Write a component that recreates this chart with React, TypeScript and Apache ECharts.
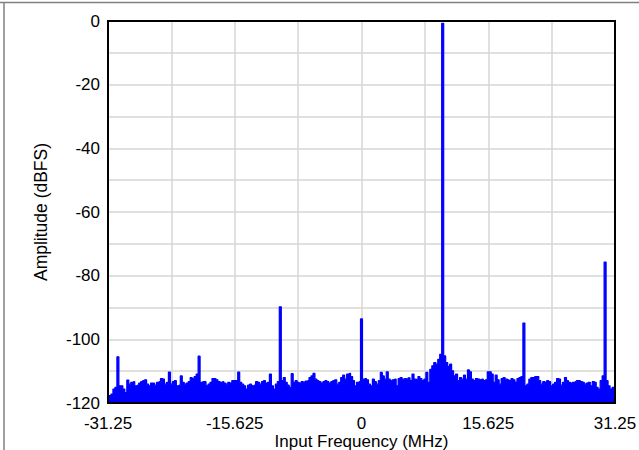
import React, { useEffect, useRef } from "react";
import * as echarts from "echarts";

// FFT bin settings (frequency axis, MHz)
const startFreqMHz = -31.25;
const spanMHz = 62.5;
const binCount = 256;

// Amplitude per bin (dBFS), bins 0..256
const amplitudeDbfs: number[] = [
  -118.2, -117.7, -117.2, -115.6, -115.1, -105.5, -114.6, -114.6, -115.6, -116.7, -112.8, -114.1, -113.5, -113.3, -114.6, -114.4,
  -113.75, -113.3, -113.0, -112.7, -114.1, -114.6, -113.75, -113.75, -114.4, -113.5, -113.3, -112.3, -112.5, -114.1, -113.5, -110.3,
  -114.1, -113.3, -113.0, -114.6, -114.4, -111.5, -113.5, -114.1, -113.75, -113.3, -112.0, -112.3, -111.7, -110.9, -105.3, -113.5,
  -113.3, -113.3, -114.6, -114.1, -113.5, -112.3, -112.3, -112.7, -113.3, -113.5, -113.3, -113.75, -114.1, -113.5, -113.75, -113.0,
  -113.0, -113.0, -110.3, -113.5, -114.1, -114.6, -115.6, -114.4, -114.1, -114.6, -114.4, -113.3, -113.5, -114.1, -113.3, -113.0,
  -113.75, -113.5, -110.9, -114.6, -115.6, -114.1, -113.3, -89.8, -113.0, -112.0, -113.5, -114.4, -115.1, -110.8, -113.5, -113.0,
  -113.5, -113.75, -113.3, -113.5, -113.1, -113.0, -112.0, -111.5, -110.7, -112.5, -113.0, -113.3, -113.75, -113.3, -113.0, -113.3,
  -113.75, -113.3, -113.0, -112.7, -114.1, -113.5, -112.0, -111.25, -112.5, -110.9, -110.7, -111.7, -113.0, -114.6, -113.5, -113.3,
  -93.6, -112.5, -112.3, -112.7, -114.1, -114.6, -112.5, -113.3, -114.1, -113.0, -110.4, -111.5, -112.5, -110.2, -112.5, -113.0,
  -112.7, -112.5, -114.6, -112.3, -112.0, -112.5, -112.3, -112.5, -112.1, -113.0, -110.9, -112.5, -112.7, -111.7, -112.3, -113.0,
  -112.5, -110.4, -113.5, -109.4, -108.3, -107.3, -107.8, -106.3, -104.7, -0.7, -105.2, -107.3, -108.5, -107.8, -109.9, -111.5,
  -110.9, -113.0, -112.0, -112.5, -111.25, -112.5, -109.6, -110.2, -112.5, -113.0, -112.3, -112.5, -112.7, -112.5, -113.0, -112.7,
  -110.2, -110.2, -110.9, -113.5, -111.25, -112.7, -114.1, -112.3, -112.0, -112.5, -112.7, -113.0, -112.3, -112.7, -113.5, -112.3,
  -112.0, -111.7, -94.9, -114.6, -114.1, -112.5, -112.0, -112.0, -111.7, -111.7, -113.0, -114.1, -113.3, -113.5, -113.0, -113.3,
  -114.6, -114.1, -113.5, -112.3, -112.5, -114.4, -113.5, -112.0, -113.0, -113.5, -113.75, -113.5, -113.3, -113.0, -113.0, -113.3,
  -113.5, -114.1, -113.75, -113.5, -114.6, -113.3, -113.5, -115.1, -115.6, -113.0, -111.5, -75.7, -113.0, -114.6, -115.6, -115.1,
  -115.1,
];

const xTickLabels = ["-31.25", "-15.625", "0", "15.625", "31.25"];
const yTickLabels = ["-120", "-100", "-80", "-60", "-40", "-20", "0"];

const FONT = "'Liberation Sans', Arial, Helvetica, sans-serif";

const GRID = { left: 108, top: 21, width: 507, height: 382 };

export default function App() {
  const ref = useRef<HTMLDivElement>(null);

  useEffect(() => {
    if (!ref.current) return;
    const chart = echarts.init(ref.current, undefined, { renderer: "svg" });
    const binWidth = spanMHz / binCount;
    const seriesData = amplitudeDbfs.map((v, i) => [startFreqMHz + i * binWidth, v]);

    chart.setOption({
      animation: false,
      backgroundColor: "#ffffff",
      grid: { ...GRID, show: false, containLabel: false, outerBoundsMode: "none" },
      xAxis: {
        type: "value",
        min: -31.25,
        max: 31.25,
        interval: 7.8125,
        axisLine: { show: false, onZero: false },
        axisTick: { show: false },
        splitLine: { show: true, lineStyle: { color: "#d6d6d6", width: 1.5 } },
        axisLabel: {
          color: "#000000",
          fontFamily: FONT,
          fontSize: 17,
          lineHeight: 14,
          margin: 13,
          showMinLabel: true,
          showMaxLabel: true,
          formatter: (v: number) => {
            const s = xTickLabels.find((t) => Math.abs(parseFloat(t) - v) < 1e-6);
            return s ?? "";
          },
        },
        name: "Input Frequency (MHz)",
        nameLocation: "middle",
        nameGap: 30,
        nameMoveOverlap: false,
        nameTextStyle: { color: "#000000", fontFamily: FONT, fontSize: 17, lineHeight: 16 },
      },
      yAxis: {
        type: "value",
        min: -120,
        max: 0,
        interval: 10,
        axisLine: { show: false, onZero: false },
        axisTick: { show: false },
        splitLine: { show: true, lineStyle: { color: "#d6d6d6", width: 1.5 } },
        axisLabel: {
          color: "#000000",
          fontFamily: FONT,
          fontSize: 17,
          margin: 8,
          formatter: (v: number) => {
            const s = yTickLabels.find((t) => Math.abs(parseFloat(t) - v) < 1e-6);
            return s ?? "";
          },
        },
        name: "Amplitude (dBFS)",
        nameLocation: "middle",
        nameGap: 58,
        nameMoveOverlap: false,
        nameTextStyle: { color: "#000000", fontFamily: FONT, fontSize: 17.5 },
      },
      graphic: [
        {
          type: "rect",
          shape: { x: GRID.left, y: GRID.top, width: GRID.width, height: GRID.height },
          style: { fill: "none", stroke: "#000000", lineWidth: 2 },
          z: 100,
          silent: true,
        },
        {
          type: "line",
          shape: { x1: 0, y1: 2.5, x2: 639, y2: 2.5 },
          style: { stroke: "#808080", lineWidth: 1.5 },
          z: 100,
        },
        {
          type: "line",
          shape: { x1: 4, y1: 2.5, x2: 4, y2: 450 },
          style: { stroke: "#808080", lineWidth: 1.5 },
          z: 100,
        },
      ],
      series: [
        {
          type: "line",
          data: seriesData,
          step: "middle",
          showSymbol: false,
          symbol: "none",
          lineStyle: { color: "#0000ff", width: 1.2 },
          areaStyle: { color: "#0000ff", opacity: 1, origin: "start" },
          z: 3,
        },
      ],
    });

    return () => chart.dispose();
  }, []);

  return (
    <div
      ref={ref}
      style={{ position: "fixed", left: 0, top: 0, width: 639, height: 450, background: "#fff" }}
    />
  );
}
